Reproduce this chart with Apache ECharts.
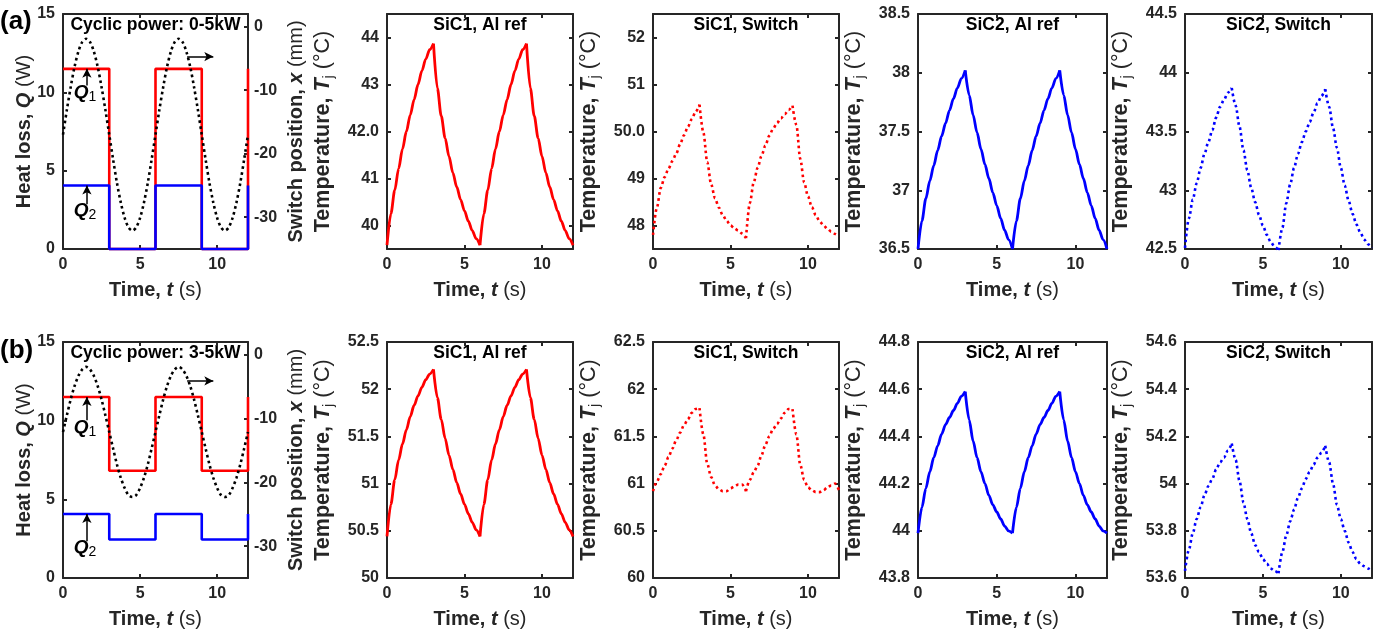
<!DOCTYPE html>
<html>
<head>
<meta charset="utf-8">
<script src="https://cdn.jsdelivr.net/npm/echarts@6/dist/echarts.min.js"></script>
<style>
  html, body { margin: 0; padding: 0; background: #ffffff; }
  #chart { width: 1381px; height: 634px; }
</style>
</head>
<body>
<div id="chart"></div>
<script>
// ---------- data ----------
// time samples (s)
const timeS = [0,0.25,0.5,0.75,1,1.25,1.5,1.75,2,2.25,2.5,2.75,3,3.25,3.5,3.75,4,4.25,4.5,4.75,5,5.25,5.5,5.75,
               6,6.25,6.5,6.75,7,7.25,7.5,7.75,8,8.25,8.5,8.75,9,9.25,9.5,9.75,10,10.25,10.5,10.75,11,11.25,11.5,11.75,12];
// instants where the heat-loss steps change (s)
const timeSteps = [0, 3, 6, 9, 12];

// (a) cyclic power 0-5 kW
const q1A = [11.5, 0, 11.5, 0, 11.5];
const q2A = [4.05, 0, 4.05, 0, 4.05];
const switchPosA = [-17,-13.1,-9.5,-6.3,-3.9,-2.4,-1.9,-2.4,-3.9,-6.3,-9.5,-13.1,-17,-20.9,-24.6,-27.7,-30.1,-31.6,-32.1,-31.6,-30.1,-27.7,-24.6,-20.9,
                    -17,-13.1,-9.5,-6.3,-3.9,-2.4,-1.9,-2.4,-3.9,-6.3,-9.5,-13.1,-17,-20.9,-24.6,-27.7,-30.1,-31.6,-32.1,-31.6,-30.1,-27.7,-24.6,-20.9,-17];
const sic1RefA = [39.58,40.25,40.75,41.21,41.63,42.00,42.35,42.68,43.00,43.29,43.54,43.74,43.87,42.92,42.33,41.86,41.47,41.12,40.82,40.55,40.31,40.09,39.89,39.72,
                  39.58,40.25,40.75,41.21,41.63,42.00,42.35,42.68,43.00,43.29,43.54,43.74,43.87,42.92,42.33,41.86,41.47,41.12,40.82,40.55,40.31,40.09,39.89,39.72,39.58];
const sic1SwA = [47.80,48.38,48.80,49.03,49.21,49.37,49.53,49.73,49.92,50.10,50.26,50.42,50.57,49.98,49.35,48.88,48.58,48.38,48.22,48.10,48.00,47.94,47.89,47.83,
                 47.73,48.48,48.92,49.23,49.48,49.70,49.91,50.06,50.18,50.28,50.37,50.46,50.55,50.14,49.42,48.92,48.62,48.39,48.22,48.09,48.00,47.93,47.87,47.82,47.77];
const sic2RefA = [36.50,36.74,36.93,37.08,37.21,37.34,37.46,37.57,37.68,37.78,37.87,37.95,38.02,37.81,37.64,37.49,37.35,37.22,37.10,36.98,36.87,36.76,36.66,36.58,
                  36.50,36.74,36.93,37.08,37.21,37.34,37.46,37.57,37.68,37.78,37.87,37.95,38.02,37.81,37.64,37.49,37.35,37.22,37.10,36.98,36.87,36.76,36.66,36.58,36.50];
const sic2SwA = [42.51,42.76,42.92,43.06,43.19,43.31,43.41,43.51,43.62,43.71,43.77,43.83,43.87,43.72,43.54,43.34,43.17,43.02,42.90,42.79,42.70,42.62,42.56,42.52,
                 42.49,42.68,42.89,43.05,43.19,43.31,43.41,43.50,43.58,43.66,43.74,43.80,43.86,43.71,43.53,43.36,43.19,43.04,42.91,42.80,42.71,42.64,42.58,42.54,42.51];

// (b) cyclic power 3-5 kW
const q1B = [11.5, 6.82, 11.5, 6.82, 11.5];
const q2B = [4.07, 2.45, 4.07, 2.45, 4.07];
const switchPosB = [-12.1,-9.5,-7.0,-4.9,-3.3,-2.3,-1.9,-2.3,-3.3,-4.9,-7.0,-9.5,-12.1,-14.7,-17.2,-19.3,-20.9,-22.0,-22.3,-22.0,-20.9,-19.3,-17.2,-14.7,
                    -12.1,-9.5,-7.0,-4.9,-3.3,-2.3,-1.9,-2.3,-3.3,-4.9,-7.0,-9.5,-12.1,-14.7,-17.2,-19.3,-20.9,-22.0,-22.3,-22.0,-20.9,-19.3,-17.2,-14.7,-12.1];
const sic1RefB = [50.44,50.78,51.04,51.25,51.42,51.57,51.71,51.83,51.93,52.02,52.10,52.16,52.21,51.91,51.68,51.48,51.30,51.15,51.01,50.89,50.78,50.68,50.59,50.51,
                  50.44,50.78,51.04,51.25,51.42,51.57,51.71,51.83,51.93,52.02,52.10,52.16,52.21,51.91,51.68,51.48,51.30,51.15,51.01,50.89,50.78,50.68,50.59,50.51,50.44];
const sic1SwB = [60.92,61.02,61.10,61.19,61.28,61.37,61.46,61.54,61.62,61.68,61.75,61.79,61.80,61.52,61.21,61.07,60.98,60.94,60.92,60.92,60.95,60.97,60.99,60.99,
                 60.92,61.04,61.12,61.19,61.30,61.41,61.50,61.58,61.63,61.69,61.75,61.79,61.79,61.52,61.20,61.04,60.96,60.93,60.91,60.91,60.93,60.96,60.98,61.00,60.93];
const sic2RefB = [43.99,44.10,44.18,44.25,44.31,44.36,44.41,44.45,44.48,44.51,44.54,44.57,44.59,44.47,44.38,44.31,44.25,44.20,44.15,44.11,44.08,44.05,44.02,44.00,
                  43.99,44.10,44.18,44.25,44.31,44.36,44.41,44.45,44.48,44.51,44.54,44.57,44.59,44.47,44.38,44.31,44.25,44.20,44.15,44.11,44.08,44.05,44.02,44.00,43.99];
const sic2SwB = [53.63,53.72,53.79,53.85,53.90,53.95,53.99,54.02,54.06,54.09,54.11,54.14,54.17,54.10,54.01,53.92,53.85,53.79,53.74,53.71,53.68,53.66,53.64,53.63,
                 53.62,53.71,53.78,53.84,53.89,53.94,53.98,54.02,54.05,54.08,54.11,54.13,54.16,54.09,54.00,53.91,53.85,53.80,53.75,53.71,53.68,53.66,53.65,53.64,53.63];

// ---------- axis limits and ticks ----------
const timeRange = [0, 12];
const timeTicks = [0, 5, 10];
const heatRange = [0, 15];
const heatTicks = [0, 5, 10, 15];
const posRange = [-35, 2];
const posTicks = [-30, -20, -10, 0];

const sic1RefRangeA = [39.5, 44.5];
const sic1RefTicksA = [40, 41, 42, 43, 44];
const sic1RefLabelsA = ['40', '41', '42.0', '43', '44'];
const sic1SwRangeA = [47.5, 52.5];
const sic1SwTicksA = [48, 49, 50, 51, 52];
const sic1SwLabelsA = ['48', '49', '50.0', '51', '52'];
const sic2RefRangeA = [36.5, 38.5];
const sic2RefTicksA = [36.5, 37, 37.5, 38, 38.5];
const sic2RefLabelsA = ['36.5', '37', '37.5', '38', '38.5'];
const sic2SwRangeA = [42.5, 44.5];
const sic2SwTicksA = [42.5, 43, 43.5, 44, 44.5];
const sic2SwLabelsA = ['42.5', '43', '43.5', '44', '44.5'];

const sic1RefRangeB = [50, 52.5];
const sic1RefTicksB = [50, 50.5, 51, 51.5, 52, 52.5];
const sic1RefLabelsB = ['50', '50.5', '51', '51.5', '52', '52.5'];
const sic1SwRangeB = [60, 62.5];
const sic1SwTicksB = [60, 60.5, 61, 61.5, 62, 62.5];
const sic1SwLabelsB = ['60', '60.5', '61', '61.5', '62', '62.5'];
const sic2RefRangeB = [43.8, 44.8];
const sic2RefTicksB = [43.8, 44, 44.2, 44.4, 44.6, 44.8];
const sic2RefLabelsB = ['43.8', '44', '44.2', '44.4', '44.6', '44.8'];
const sic2SwRangeB = [53.6, 54.6];
const sic2SwTicksB = [53.6, 53.8, 54, 54.2, 54.4, 54.6];
const sic2SwLabelsB = ['53.6', '53.8', '54', '54.2', '54.4', '54.6'];

// ---------- layout and style ----------
const colLeft = [63, 387, 653, 918, 1185];
const colWidth = [185, 186, 186, 189, 187];
const rowTop = [14, 342];
const rowHeight = [235, 236];

const INK = '#262626';
const FONT = '"Liberation Sans", Arial, Helvetica, sans-serif';
const RED = '#ff0000';
const BLUE = '#0000ff';
const DOTS = [2.6, 3.2];

function richSet(size, lh) {
  return {
    b: { fontFamily: FONT, fontWeight: 'bold', fontSize: size, color: INK, lineHeight: lh },
    i: { fontFamily: FONT, fontWeight: 'bold', fontStyle: 'italic', fontSize: size, color: INK, lineHeight: lh },
    n: { fontFamily: FONT, fontWeight: 'normal', fontSize: size, color: INK, lineHeight: lh },
    s: { fontFamily: FONT, fontWeight: 'normal', fontSize: 14.5, color: INK, lineHeight: 12, verticalAlign: 'bottom' }
  };
}
const nameRich = richSet(20, 24);
const tempRich = richSet(21.5, 26);
const qRich = {
  i: { fontFamily: FONT, fontWeight: 'bold', fontStyle: 'italic', fontSize: 19, color: '#000', lineHeight: 24 },
  s: { fontFamily: FONT, fontWeight: 'normal', fontSize: 14, color: '#000', lineHeight: 12, verticalAlign: 'bottom' }
};

const grids = [], xAxes = [], yAxes = [], series = [], graphics = [];

function lineAxis(extra) {
  return Object.assign({
    type: 'value',
    splitLine: { show: false },
    axisLine: { show: true, onZero: false, lineStyle: { color: INK, width: 2 } },
    nameMoveOverlap: false
  }, extra);
}
function tickStyle(values) {
  return { show: true, inside: true, length: 4, customValues: values, lineStyle: { color: INK, width: 2 } };
}
function labelStyle(values, labels, margin) {
  return {
    show: true, customValues: values, margin: margin, color: INK,
    fontFamily: FONT, fontWeight: 'bold', fontSize: 16,
    formatter: function (v) {
      if (!labels) return String(v);
      const k = values.findIndex(t => Math.abs(t - v) < 1e-9);
      return k >= 0 ? labels[k] : '';
    }
  };
}

// one panel: grid, bottom/top time axes, left value axis
function addPanel(row, col, yRange, yTicks, yLabels, yName, yGap, yRich) {
  const g = grids.length;
  grids.push({ left: colLeft[col], top: rowTop[row], width: colWidth[col], height: rowHeight[row], containLabel: false, outerBoundsMode: 'none' });
  const xi = xAxes.length;
  xAxes.push(lineAxis({
    gridIndex: g, position: 'bottom', min: timeRange[0], max: timeRange[1],
    axisTick: tickStyle(timeTicks), axisLabel: labelStyle(timeTicks, null, 8),
    name: '{b|Time, }{i|t}{n| (s)}', nameLocation: 'middle', nameGap: 29.5,
    nameTextStyle: { rich: nameRich }
  }));
  xAxes.push(lineAxis({
    gridIndex: g, position: 'top', min: timeRange[0], max: timeRange[1],
    axisTick: tickStyle(timeTicks), axisLabel: { show: false }
  }));
  const yi = yAxes.length;
  yAxes.push(lineAxis({
    gridIndex: g, position: 'left', min: yRange[0], max: yRange[1],
    axisTick: tickStyle(yTicks), axisLabel: labelStyle(yTicks, yLabels, 8),
    name: yName, nameLocation: 'middle', nameRotate: 90, nameGap: yGap,
    nameTextStyle: { rich: yRich }
  }));
  return { g: g, xi: xi, yi: yi };
}
function addMirrorY(p, yRange, yTicks) {
  yAxes.push(lineAxis({
    gridIndex: p.g, position: 'right', min: yRange[0], max: yRange[1],
    axisTick: tickStyle(yTicks), axisLabel: { show: false }
  }));
}
function pairs(xs, ys) { return xs.map((x, k) => [x, ys[k]]); }

// a temperature trace, drawn piecewise between switching instants so the
// heating/cooling corners stay sharp while each branch is smoothed
function curve(p, values, color, dotted) {
  const pts = pairs(timeS, values);
  for (let s = 0; s < timeSteps.length - 1; s++) {
    const seg = pts.filter(d => d[0] >= timeSteps[s] && d[0] <= timeSteps[s + 1]);
    series.push({
      type: 'line', xAxisIndex: p.xi, yAxisIndex: p.yi, data: seg,
      symbol: 'none', clip: false, silent: true, smooth: 0.3, smoothMonotone: 'x',
      lineStyle: { color: color, width: dotted ? 2.6 : 2.8, type: dotted ? DOTS : 'solid', cap: 'butt', join: 'miter' }
    });
  }
}
function panelTitle(row, col, text) {
  graphics.push({
    type: 'text', x: colLeft[col] + colWidth[col] / 2, y: rowTop[row] + 11.5, silent: true,
    style: { text: text, font: 'bold 17.5px ' + FONT, fill: '#000',
             align: 'center', verticalAlign: 'middle', textAlign: 'center', textVerticalAlign: 'middle' }
  });
}

const tempName = '{b|Temperature, }{i|T}{s|j}{n| (°C)}';

// heat loss / switch position panel
function powerPanel(row, q1, q2, pos, title, q1Label, q2Label, arrowY) {
  const p = addPanel(row, 0, heatRange, heatTicks, null, '{b|Heat loss, }{i|Q}{n| (W)}', 26.5, nameRich);
  const ri = yAxes.length;
  yAxes.push(lineAxis({
    gridIndex: p.g, position: 'right', min: posRange[0], max: posRange[1],
    axisTick: tickStyle(posTicks), axisLabel: labelStyle(posTicks, null, 6),
    name: '{b|Switch position, }{i|x}{n| (mm)}', nameLocation: 'middle', nameRotate: 90, nameGap: 36,
    nameTextStyle: { rich: nameRich }
  }));
  const arrowLine = { color: '#000', width: 1.5, type: 'solid' };
  series.push({
    type: 'line', xAxisIndex: p.xi, yAxisIndex: p.yi, data: pairs(timeSteps, q1), step: 'end',
    symbol: 'none', clip: false, silent: true, lineStyle: { color: RED, width: 2.6 },
    markLine: {
      silent: true, symbol: ['none', 'arrow'], symbolSize: [7, 9], label: { show: false },
      lineStyle: arrowLine, animation: false,
      data: [[{ coord: [1.55, q1Label[1] + 0.45] }, { coord: [1.55, q1[0]] }]]
    },
    markPoint: {
      silent: true, symbol: 'circle', symbolSize: 1, itemStyle: { color: 'rgba(0,0,0,0)' },
      label: { show: true, position: 'inside', formatter: '{i|Q}{s|1}', rich: qRich },
      data: [{ coord: q1Label }]
    }
  });
  series.push({
    type: 'line', xAxisIndex: p.xi, yAxisIndex: p.yi, data: pairs(timeSteps, q2), step: 'end',
    symbol: 'none', clip: false, silent: true, lineStyle: { color: BLUE, width: 2.6 },
    markLine: {
      silent: true, symbol: ['none', 'arrow'], symbolSize: [7, 9], label: { show: false },
      lineStyle: arrowLine, animation: false,
      data: [[{ coord: [1.55, q2Label[1] + 0.4] }, { coord: [1.55, q2[0]] }]]
    },
    markPoint: {
      silent: true, symbol: 'circle', symbolSize: 1, itemStyle: { color: 'rgba(0,0,0,0)' },
      label: { show: true, position: 'inside', formatter: '{i|Q}{s|2}', rich: qRich },
      data: [{ coord: q2Label }]
    }
  });
  series.push({
    type: 'line', xAxisIndex: p.xi, yAxisIndex: ri, data: pairs(timeS, pos),
    symbol: 'none', clip: false, silent: true, smooth: 0.3,
    lineStyle: { color: '#000', width: 2.6, type: DOTS, cap: 'butt' },
    markLine: {
      silent: true, symbol: ['none', 'arrow'], symbolSize: [7, 9], label: { show: false },
      lineStyle: arrowLine, animation: false,
      data: [[{ coord: [8.05, arrowY] }, { coord: [9.75, arrowY] }]]
    }
  });
  panelTitle(row, 0, title);
}

function tempPanel(row, col, values, range, ticks, labels, color, dotted, title) {
  const p = addPanel(row, col, range, ticks, labels, tempName, 50.7, tempRich);
  addMirrorY(p, range, ticks);
  curve(p, values, color, dotted);
  panelTitle(row, col, title);
}

// row (a)
powerPanel(0, q1A, q2A, switchPosA, 'Cyclic power: 0-5kW', [1.43, 9.99], [1.43, 2.46], -4.7);
tempPanel(0, 1, sic1RefA, sic1RefRangeA, sic1RefTicksA, sic1RefLabelsA, RED, false, 'SiC1, Al ref');
tempPanel(0, 2, sic1SwA, sic1SwRangeA, sic1SwTicksA, sic1SwLabelsA, RED, true, 'SiC1, Switch');
tempPanel(0, 3, sic2RefA, sic2RefRangeA, sic2RefTicksA, sic2RefLabelsA, BLUE, false, 'SiC2, Al ref');
tempPanel(0, 4, sic2SwA, sic2SwRangeA, sic2SwTicksA, sic2SwLabelsA, BLUE, true, 'SiC2, Switch');
// row (b)
powerPanel(1, q1B, q2B, switchPosB, 'Cyclic power: 3-5kW', [1.43, 9.57], [1.43, 1.94], -4.1);
tempPanel(1, 1, sic1RefB, sic1RefRangeB, sic1RefTicksB, sic1RefLabelsB, RED, false, 'SiC1, Al ref');
tempPanel(1, 2, sic1SwB, sic1SwRangeB, sic1SwTicksB, sic1SwLabelsB, RED, true, 'SiC1, Switch');
tempPanel(1, 3, sic2RefB, sic2RefRangeB, sic2RefTicksB, sic2RefLabelsB, BLUE, false, 'SiC2, Al ref');
tempPanel(1, 4, sic2SwB, sic2SwRangeB, sic2SwTicksB, sic2SwLabelsB, BLUE, true, 'SiC2, Switch');

// row tags
graphics.push({ type: 'text', x: 0, y: 22, silent: true,
  style: { text: '(a)', font: 'bold 26px ' + FONT, fill: '#000', align: 'left', verticalAlign: 'middle', textAlign: 'left', textVerticalAlign: 'middle' } });
graphics.push({ type: 'text', x: 0, y: 351, silent: true,
  style: { text: '(b)', font: 'bold 26px ' + FONT, fill: '#000', align: 'left', verticalAlign: 'middle', textAlign: 'left', textVerticalAlign: 'middle' } });

const chart = echarts.init(document.getElementById('chart'), null, { renderer: 'canvas' });
chart.setOption({
  backgroundColor: '#ffffff',
  animation: false,
  grid: grids,
  xAxis: xAxes,
  yAxis: yAxes,
  series: series,
  graphic: { elements: graphics }
});
</script>
</body>
</html>
